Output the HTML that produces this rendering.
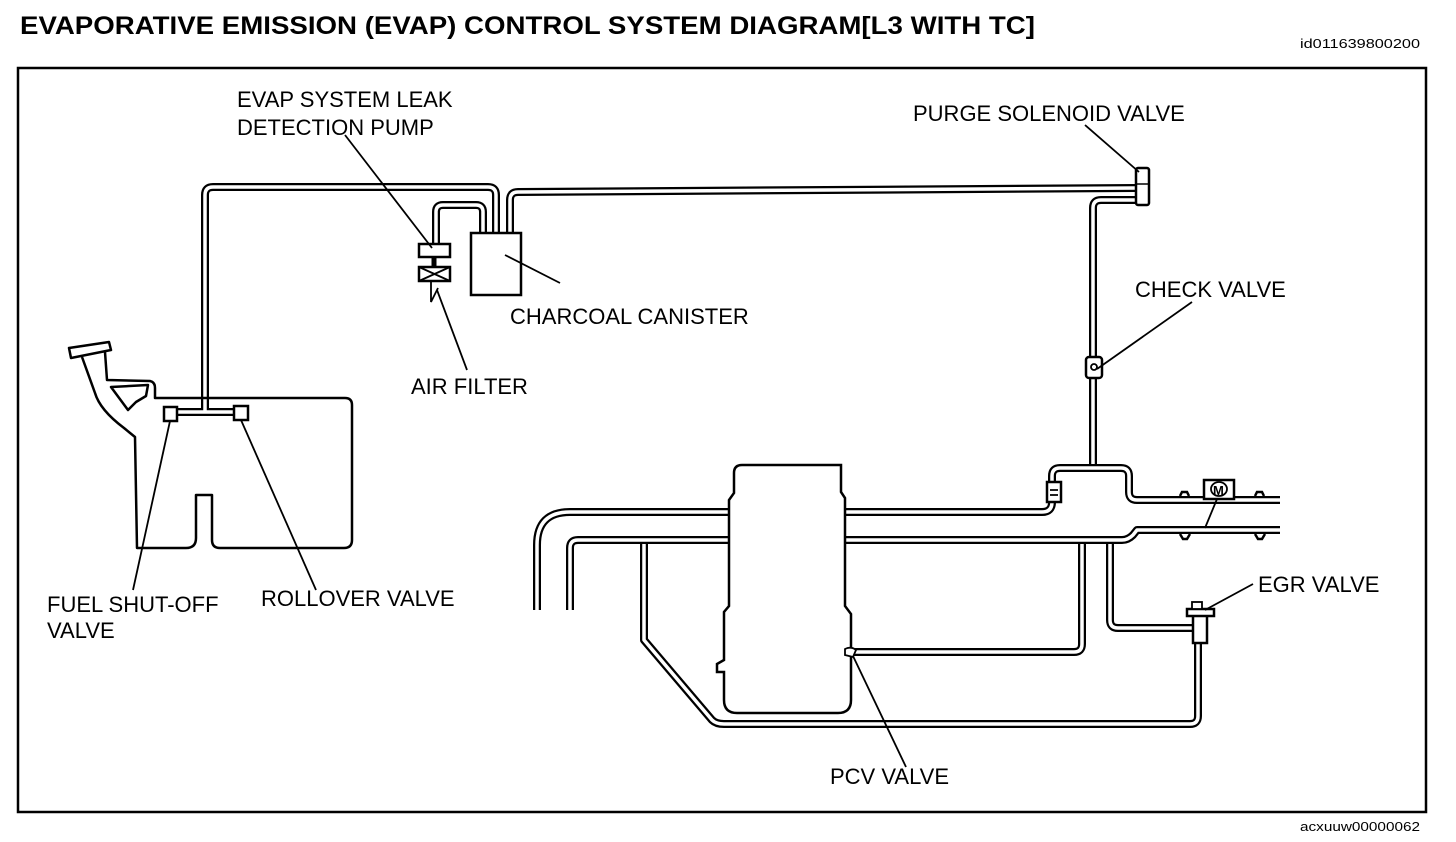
<!DOCTYPE html>
<html><head><meta charset="utf-8"><style>
html,body{margin:0;padding:0;background:#fff;}
svg{display:block;}
text{font-family:"Liberation Sans",Arial,sans-serif;fill:#000;}
.l{font-size:22px;}
.p{fill:none;stroke:#000;stroke-width:8;stroke-linejoin:round;}
.pi{fill:none;stroke:#fff;stroke-width:3.5;stroke-linejoin:round;}
.t{fill:none;stroke:#000;stroke-width:2.5;stroke-linejoin:round;}
.ld{stroke:#000;stroke-width:1.8;}
</style></head><body>
<svg width="1456" height="842" viewBox="0 0 1456 842" xmlns="http://www.w3.org/2000/svg">
<text x="20" y="34" font-size="25" font-weight="bold" textLength="1015" lengthAdjust="spacingAndGlyphs">EVAPORATIVE EMISSION (EVAP) CONTROL SYSTEM DIAGRAM[L3 WITH TC]</text>
<text x="1300" y="48" font-size="13" textLength="120" lengthAdjust="spacingAndGlyphs">id011639800200</text>
<text x="1300" y="831" font-size="13" textLength="120" lengthAdjust="spacingAndGlyphs">acxuuw00000062</text>
<rect x="18" y="68" width="1408" height="744" fill="none" stroke="#000" stroke-width="2.5"/>

<g>
<path class="p" d="M205 412 L205 195 Q205 187 213 187 L488 187 Q496 187 496 195 L496 233"/>
<path class="p" d="M510 233 L510 200 Q510 192 518 192 L1136 188"/>
<path class="p" d="M483 233 L483 212 Q483 205 476 205 L443 205 Q436 205 436 212 L436 244"/>
<path class="p" d="M1136 200 L1101 200 Q1093 200 1093 208 L1093 468"/>
<path class="p" d="M170 412 L241 412"/>
<path class="pi" d="M205 412 L205 195 Q205 187 213 187 L488 187 Q496 187 496 195 L496 233"/>
<path class="pi" d="M510 233 L510 200 Q510 192 518 192 L1136 188"/>
<path class="pi" d="M483 233 L483 212 Q483 205 476 205 L443 205 Q436 205 436 212 L436 244"/>
<path class="pi" d="M1136 200 L1101 200 Q1093 200 1093 208 L1093 468"/>
<path class="pi" d="M170 412 L241 412"/>
</g>
<rect x="471" y="233" width="50" height="62" fill="#fff" stroke="#000" stroke-width="2.5"/>
<rect x="419" y="244" width="31" height="13" fill="#fff" stroke="#000" stroke-width="2.5"/>
<line x1="434" y1="257" x2="434" y2="267" stroke="#000" stroke-width="5"/>
<rect x="419" y="267" width="31" height="14" fill="#fff" stroke="#000" stroke-width="2.5"/>
<path d="M419 267 L450 281 M450 267 L419 281" stroke="#000" stroke-width="1.8"/>
<path d="M431 281 L431 302 L438 288" fill="none" stroke="#000" stroke-width="1.8"/>
<rect x="1136" y="168" width="13" height="37" rx="2" fill="#fff" stroke="#000" stroke-width="2.5"/>
<line x1="1136" y1="184" x2="1149" y2="184" stroke="#000" stroke-width="1.5"/>
<rect x="1086" y="357" width="16" height="21" rx="3" fill="#fff" stroke="#000" stroke-width="2.5"/>
<circle cx="1094" cy="367" r="3" fill="none" stroke="#000" stroke-width="1.8"/>

<path class="t" d="M157 398 L345 398 Q352 398 352 405 L352 540 Q352 548 344 548 L220 548 Q212 548 212 540 L212 495 L196 495 L196 538 Q196 548 186 548 L137 548 L135 437 L124 428 Q100 410 95 393 L82 357"/>
<path class="t" d="M105 352 L107 380 L150 381 Q155 382 155 388 L155 398 L157 398"/>
<path class="t" d="M111 387 L148 385 L146 396 L136 402 L128 410 Z"/>
<path class="t" d="M69 348 L109 342 L111 350 L71 358 Z"/>
<rect x="164" y="407" width="13" height="14" fill="#fff" stroke="#000" stroke-width="2.5"/>
<rect x="234" y="406" width="14" height="14" fill="#fff" stroke="#000" stroke-width="2.5"/>

<g>
<path class="p" d="M537 610 L537 545 Q537 512 570 512 L1042 512 Q1052 512 1052 502 L1052 476 Q1052 468 1060 468 L1121 468 Q1129 468 1129 476 L1129 492 Q1129 500 1137 500 L1280 500"/>
<path class="p" d="M570 610 L570 548 Q570 540 578 540 L1122 540 Q1128 540 1133 535 L1137 530 L1280 530"/>
<path class="pi" d="M537 610 L537 545 Q537 512 570 512 L1042 512 Q1052 512 1052 502 L1052 476 Q1052 468 1060 468 L1121 468 Q1129 468 1129 476 L1129 492 Q1129 500 1137 500 L1280 500"/>
<path class="pi" d="M570 610 L570 548 Q570 540 578 540 L1122 540 Q1128 540 1133 535 L1137 530 L1280 530"/>
</g>
<path d="M1180 496 L1182 492 L1187 492 L1189 496 M1255 496 L1257 492 L1262 492 L1264 496" fill="none" stroke="#000" stroke-width="2.5"/>
<path d="M1180 534 L1183 539 L1187 539 L1190 534 M1255 534 L1258 539 L1262 539 L1265 534" fill="none" stroke="#000" stroke-width="2.5"/>
<g>
<path class="p" d="M644 544 L644 640 L712 720 Q716 724 724 724 L1190 724 Q1198 724 1198 716 L1198 640"/>
<path class="p" d="M1082 544 L1082 644 Q1082 652 1074 652 L851 652"/>
<path class="p" d="M1110 544 L1110 620 Q1110 628 1118 628 L1193 628"/>
<path class="pi" d="M644 544 L644 640 L712 720 Q716 724 724 724 L1190 724 Q1198 724 1198 716 L1198 640"/>
<path class="pi" d="M1082 544 L1082 644 Q1082 652 1074 652 L851 652"/>
<path class="pi" d="M1110 544 L1110 620 Q1110 628 1118 628 L1193 628"/>
</g>
<path d="M742 465 L841 465 L841 492 L845 498 L845 606 L851 614 L851 700 Q851 713 838 713 L737 713 Q724 713 724 700 L724 672 L717 672 L717 664 L724 660 L724 612 L729 606 L729 500 L734 493 L734 473 Q734 465 742 465 Z" fill="#fff" stroke="#000" stroke-width="2.5"/>
<path d="M845 649 Q851 646 856 650 L853 657 L845 655 Z" fill="#fff" stroke="#000" stroke-width="1.8"/>
<rect x="1047" y="482" width="14" height="20" fill="#fff" stroke="#000" stroke-width="2.5"/>
<path d="M1050 490 L1058 490 M1050 495 L1058 495" stroke="#000" stroke-width="1.8"/>
<rect x="1204" y="480" width="30" height="19" fill="#fff" stroke="#000" stroke-width="2.5"/>
<ellipse cx="1219" cy="489" rx="8" ry="7" fill="none" stroke="#000" stroke-width="1.8"/>
<text x="1213" y="495" font-size="13" font-weight="bold">M</text>
<rect x="1193" y="613" width="14" height="30" fill="#fff" stroke="#000" stroke-width="2.5"/>
<rect x="1187" y="609" width="27" height="7" fill="#fff" stroke="#000" stroke-width="2.5"/>
<rect x="1192" y="602" width="10" height="7" fill="#fff" stroke="#000" stroke-width="1.8"/>

<g class="ld">
<line x1="345" y1="135" x2="432" y2="248"/>
<line x1="505" y1="255" x2="560" y2="283"/>
<line x1="437" y1="290" x2="467" y2="370"/>
<line x1="1085" y1="125" x2="1139" y2="172"/>
<line x1="1192" y1="302" x2="1097" y2="369"/>
<line x1="1253" y1="584" x2="1205" y2="610"/>
<line x1="853" y1="656" x2="906" y2="767"/>
<line x1="1217" y1="499" x2="1205" y2="528"/>
<line x1="170" y1="421" x2="133" y2="590"/>
<line x1="241" y1="420" x2="316" y2="590"/>
</g>

<text class="l" x="237" y="107">EVAP SYSTEM LEAK</text>
<text class="l" x="237" y="135">DETECTION PUMP</text>
<text class="l" x="913" y="121">PURGE SOLENOID VALVE</text>
<text class="l" x="1135" y="297">CHECK VALVE</text>
<text class="l" x="510" y="324">CHARCOAL CANISTER</text>
<text class="l" x="411" y="394">AIR FILTER</text>
<text class="l" x="47" y="612">FUEL SHUT-OFF</text>
<text class="l" x="47" y="638">VALVE</text>
<text class="l" x="261" y="606">ROLLOVER VALVE</text>
<text class="l" x="1258" y="592">EGR VALVE</text>
<text class="l" x="830" y="784">PCV VALVE</text>
</svg>
</body></html>
